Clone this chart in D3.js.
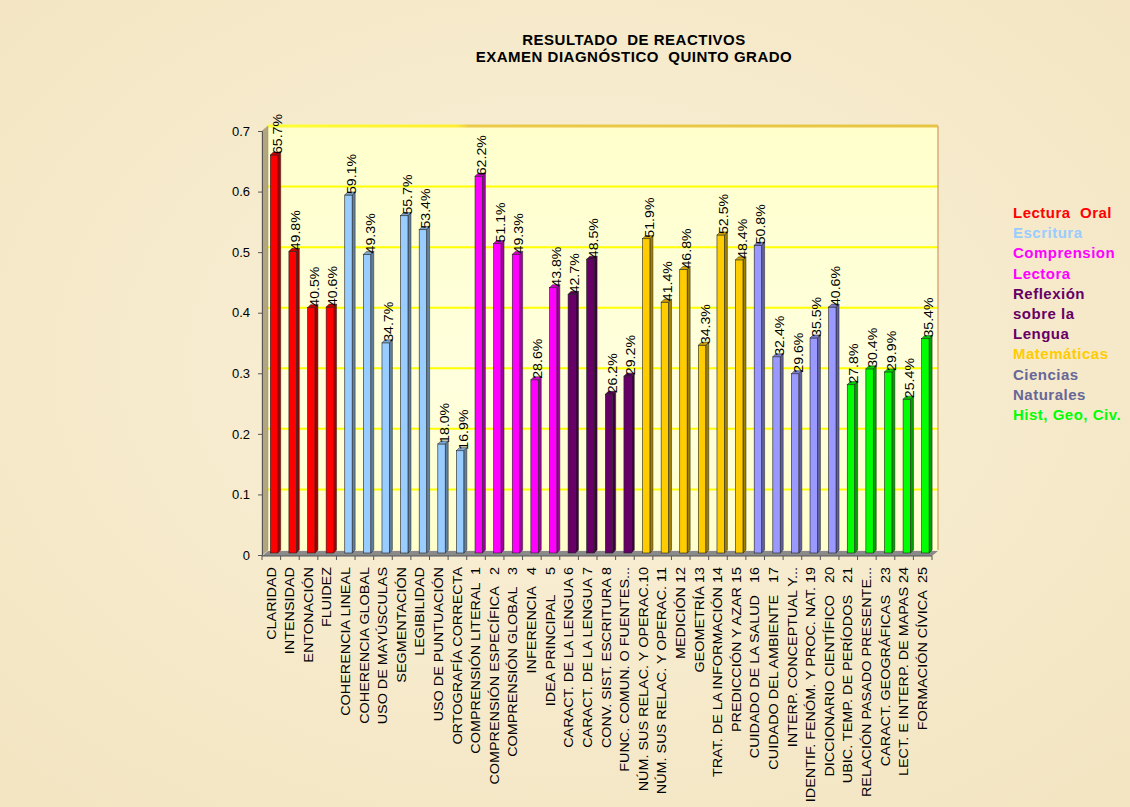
<!DOCTYPE html>
<html><head><meta charset="utf-8">
<script src="https://cdn.jsdelivr.net/npm/d3@7"></script>
<style>
html,body{margin:0;padding:0;background:#f6eacb;}
svg{display:block;font-family:Arial,"Liberation Sans",sans-serif;}
text{white-space:pre;}
</style></head>
<body>
<svg id="chart" width="1130" height="807"></svg>
<script>
const categories = [
  "CLARIDAD","INTENSIDAD","ENTONACIÓN","FLUIDEZ",
  "COHERENCIA LINEAL","COHERENCIA GLOBAL","USO DE MAYÚSCULAS","SEGMENTACIÓN","LEGIBILIDAD","USO DE PUNTUACIÓN","ORTOGRAFÍA CORRECTA",
  "COMPRENSIÓN LITERAL  1","COMPRENSIÓN ESPECÍFICA   2","COMPRENSIÓN GLOBAL   3","INFERENCIA   4","IDEA PRINCIPAL     5",
  "CARACT. DE LA LENGUA 6","CARACT. DE LA LENGUA 7","CONV. SIST. ESCRITURA 8","FUNC. COMUN. O FUENTES...",
  "NÚM. SUS RELAC. Y OPERAC.10","NÚM. SUS RELAC. Y OPERAC. 11","MEDICIÓN 12","GEOMETRÍA 13","TRAT. DE LA INFORMACIÓN 14","PREDICCIÓN Y AZAR 15",
  "CUIDADO DE LA SALUD   16","CUIDADO DEL AMBIENTE   17","INTERP. CONCEPTUAL Y...","IDENTIF. FENÓM. Y PROC. NAT. 19","DICCIONARIO CIENTÍFICO   20",
  "UBIC. TEMP. DE PERÍODOS   21","RELACIÓN PASADO PRESENTE...","CARACT. GEOGRÁFICAS   23","LECT. E INTERP. DE MAPAS 24","FORMACIÓN CÍVICA  25"
];
const values = [
  0.657,0.498,0.405,0.406,
  0.591,0.493,0.347,0.557,0.534,0.180,0.169,
  0.622,0.511,0.493,0.286,0.438,
  0.427,0.485,0.262,0.292,
  0.519,0.414,0.468,0.343,0.525,0.484,
  0.508,0.324,0.296,0.355,0.406,
  0.278,0.304,0.299,0.254,0.354
];
const groupOf = [
  0,0,0,0,
  1,1,1,1,1,1,1,
  2,2,2,2,2,
  3,3,3,3,
  4,4,4,4,4,4,
  5,5,5,5,5,
  6,6,6,6,6
];
const groupBarColors = ["#ff0000","#99ccff","#ff00ff","#660066","#ffcc00","#9999ff","#00ff00"];
const legendLines = ["Lectura  Oral","Escritura","Comprension","Lectora","Reflexión","sobre la","Lengua","Matemáticas","Ciencias","Naturales","Hist, Geo, Civ."];
const legendColors = ["#ff0000","#99ccff","#ff00ff","#ff00ff","#660066","#660066","#660066","#ffcc00","#666699","#666699","#00ff00"];
const yTicks = [0,0.1,0.2,0.3,0.4,0.5,0.6,0.7];
const titleLines = ["RESULTADO  DE REACTIVOS","EXAMEN DIAGNÓSTICO  QUINTO GRADO"];

(function(){
const svg = d3.select("#chart");
const depthX = 6, depthY = 5;
const pLeft = 262, pRight = 932, pBottom = 556, pTop = 131;

const x = d3.scaleBand().domain(d3.range(categories.length)).range([pLeft+1, pRight+1]).paddingInner(0).paddingOuter(0);
const yAxisScale = d3.scaleLinear().domain([0,0.7]).range([555, pTop]);
const yBar = d3.scaleLinear().domain([0,0.7]).range([553, 553-424]);
const yWall = v => yAxisScale(v) - depthY;

// background
svg.append("rect").attr("width",1130).attr("height",807).attr("fill","#f6eacb");
const defs = svg.append("defs");
const rg = defs.append("radialGradient").attr("id","parch").attr("cx","50%").attr("cy","45%").attr("r","70%");
rg.append("stop").attr("offset","0%").attr("stop-color","#faf1d9");
rg.append("stop").attr("offset","100%").attr("stop-color","#f3e5c2");
svg.append("rect").attr("width",1130).attr("height",807).attr("fill","url(#parch)");

const wg = defs.append("linearGradient").attr("id","wall").attr("x1","0").attr("y1","0").attr("x2","0").attr("y2","1");
wg.append("stop").attr("offset","0%").attr("stop-color","#ffffcc");
wg.append("stop").attr("offset","60%").attr("stop-color","#ffffde");
wg.append("stop").attr("offset","100%").attr("stop-color","#ffffcc");
const tg = defs.append("linearGradient").attr("id","topEdge").attr("x1","0").attr("y1","0").attr("x2","1").attr("y2","0");
tg.append("stop").attr("offset","0%").attr("stop-color","#ffff33");
tg.append("stop").attr("offset","28%").attr("stop-color","#ffee33");
tg.append("stop").attr("offset","30%").attr("stop-color","#ecc94a");
tg.append("stop").attr("offset","100%").attr("stop-color","#e8c444");

// back wall
svg.append("rect").attr("x",pLeft+depthX).attr("y",yWall(0.7)).attr("width",pRight-pLeft).attr("height",yWall(0)-yWall(0.7))
  .attr("fill","url(#wall)");
// gridlines
svg.append("g").selectAll("line").data(yTicks.slice(1,-1)).join("line")
  .attr("x1",pLeft+depthX).attr("x2",pRight+depthX).attr("y1",d=>yWall(d)).attr("y2",d=>yWall(d))
  .attr("stroke","#ffff00").attr("stroke-width",2);
svg.append("rect").attr("x",pLeft+depthX).attr("y",yWall(0.7)-1.5).attr("width",pRight-pLeft).attr("height",3)
  .attr("fill","url(#topEdge)");
// right edge
svg.append("line").attr("x1",pRight+depthX).attr("x2",pRight+depthX).attr("y1",yWall(0.7)).attr("y2",yWall(0))
  .attr("stroke","#d9ad78").attr("stroke-width",1.5);
// left wall
svg.append("polygon").attr("points",[[pLeft,yAxisScale(0.7)],[pLeft+depthX,yWall(0.7)],[pLeft+depthX,yWall(0)],[pLeft,yAxisScale(0)]].join(" "))
  .attr("fill","#b3a67f").attr("stroke","#9a8e6a").attr("stroke-width",0.5);
// floor
svg.append("polygon").attr("points",[[pLeft,pBottom],[pLeft+depthX,pBottom-depthY],[pRight+depthX,pBottom-depthY],[pRight,pBottom]].join(" "))
  .attr("fill","#8a8a8a");

// bars
const bw = 7.4, bx0 = -2, bd = 3;
const bars = svg.append("g");
values.forEach((v,i)=>{
  const c = x(i) + x.bandwidth()/2;
  const col = d3.color(groupBarColors[groupOf[i]]);
  const x0 = c + bx0, x1 = x0 + bw;
  const t = yBar(v), b = yBar(0);
  bars.append("polygon").attr("points",[[x1,t],[x1+bd,t-bd],[x1+bd,b-bd],[x1,b]].join(" "))
    .attr("fill",col.darker(1.3)).attr("stroke","#222").attr("stroke-width",0.5);
  bars.append("rect").attr("x",x0).attr("y",t).attr("width",bw).attr("height",b-t)
    .attr("fill",col.formatHex()).attr("stroke","#222").attr("stroke-width",0.6);
  bars.append("polygon").attr("points",[[x0,t],[x0+bd,t-bd],[x1+bd,t-bd],[x1,t]].join(" "))
    .attr("fill",col.darker(0.6)).attr("stroke","#222").attr("stroke-width",0.5);
  bars.append("text").attr("transform",`translate(${c+5},${t-1}) rotate(-90) scale(1.18,1)`)
    .attr("dy","0.35em").attr("text-anchor","start").attr("font-size",12).attr("fill","#000")
    .text((v*100).toFixed(1)+"%");
});

// y axis
const yAxis = d3.axisLeft(yAxisScale).tickValues(yTicks).tickSize(4).tickFormat(d=> d===0 ? "0" : d3.format(".1f")(d));
const ga = svg.append("g").attr("transform",`translate(${pLeft},0)`).call(yAxis);
ga.select(".domain").attr("stroke","#555");
ga.selectAll(".tick line").attr("stroke","#555");
ga.selectAll(".tick text").attr("font-size",13).attr("fill","#000").attr("x",-12).attr("font-family","Arial, 'Liberation Sans', sans-serif");

// x axis
const xAxisG = svg.append("g");
xAxisG.append("line").attr("x1",pLeft).attr("x2",pRight).attr("y1",pBottom).attr("y2",pBottom).attr("stroke","#555");
xAxisG.selectAll("line.tk").data(d3.range(categories.length+1)).join("line").attr("class","tk")
  .attr("x1",i=> pLeft + i*x.step()).attr("x2",i=> pLeft + i*x.step()).attr("y1",pBottom).attr("y2",pBottom+4).attr("stroke","#555");
xAxisG.selectAll("text").data(categories).join("text")
  .attr("transform",(d,i)=>`translate(${x(i)+x.bandwidth()/2-1},567) rotate(-90) scale(1.2,1)`)
  .attr("dy","0.35em").attr("text-anchor","end").attr("font-size",12).attr("fill","#000").text(d=>d);

// title
svg.append("g").selectAll("text").data(titleLines).join("text")
  .attr("x",634).attr("y",(d,i)=>45+i*17).attr("text-anchor","middle").attr("font-weight","bold").attr("font-size",15)
  .attr("letter-spacing","0.5px").attr("fill","#000").text(d=>d);

// legend
svg.append("g").selectAll("text").data(legendLines).join("text")
  .attr("x",1013).attr("y",(d,i)=>218+i*20.2).attr("font-weight","bold").attr("font-size",15)
  .attr("letter-spacing","0.5px").attr("fill",(d,i)=>legendColors[i]).text(d=>d);
})();
</script>
</body></html>
